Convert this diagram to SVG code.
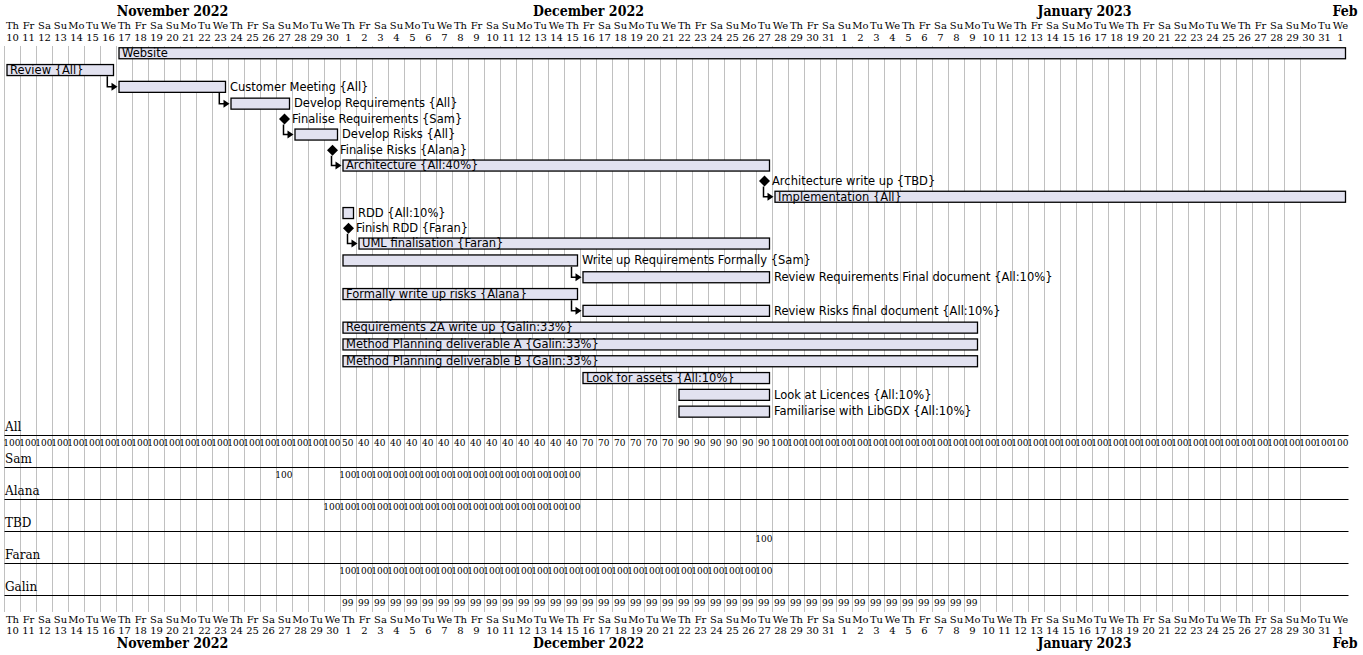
<svg xmlns="http://www.w3.org/2000/svg" width="1363" height="655" viewBox="0 0 1363 655">
<style>
.hd{font-family:"DejaVu Serif",serif;font-size:10px;text-anchor:middle;fill:#000}
.mo{font-family:"DejaVu Serif Condensed","DejaVu Serif",serif;font-stretch:condensed;font-size:14px;font-weight:bold;text-anchor:middle;fill:#000}
.rl{font-family:"DejaVu Serif",serif;font-size:12px;fill:#000}
.rn{font-family:"DejaVu Serif",serif;font-size:9px;text-anchor:middle;fill:#000}
.bar{fill:#E2E2F0;stroke:#000;stroke-width:1.3}
.tl{font-family:"DejaVu Sans",sans-serif;font-size:11.5px;fill:#000}
.ms{fill:#000}
.ar{fill:none;stroke:#000;stroke-width:1.5}
.ah{fill:#000}
.grid{stroke:#c0c0c0;stroke-width:1;fill:none}
.rline{stroke:#000;stroke-width:1;fill:none}
</style>
<rect width="1363" height="655" fill="#fff"/>
<path class="grid" d="M4.5 46v566m16-566v566m16-566v566m16-566v566m16-566v566m16-566v566m16-566v566m16-566v566m16-566v566m16-566v566m16-566v566m16-566v566m16-566v566m16-566v566m16-566v566m16-566v566m16-566v566m16-566v566m16-566v566m16-566v566m16-566v566m16-566v566m16-566v566m16-566v566m16-566v566m16-566v566m16-566v566m16-566v566m16-566v566m16-566v566m16-566v566m16-566v566m16-566v566m16-566v566m16-566v566m16-566v566m16-566v566m16-566v566m16-566v566m16-566v566m16-566v566m16-566v566m16-566v566m16-566v566m16-566v566m16-566v566m16-566v566m16-566v566m16-566v566m16-566v566m16-566v566m16-566v566m16-566v566m16-566v566m16-566v566m16-566v566m16-566v566m16-566v566m16-566v566m16-566v566m16-566v566m16-566v566m16-566v566m16-566v566m16-566v566m16-566v566m16-566v566m16-566v566m16-566v566m16-566v566m16-566v566m16-566v566m16-566v566m16-566v566m16-566v566m16-566v566m16-566v566m16-566v566m16-566v566m16-566v566m16-566v566m16-566v566"/>
<g id="months-top">
<text class="mo" x="172.5" y="15.5">November 2022</text>
<text class="mo" x="588.5" y="15.5">December 2022</text>
<text class="mo" x="1084.5" y="15.5">January 2023</text>
<text class="mo" x="1345" y="15.5">Feb</text>
</g>
<g id="months-bottom">
<text class="mo" x="172.5" y="648">November 2022</text>
<text class="mo" x="588.5" y="648">December 2022</text>
<text class="mo" x="1084.5" y="648">January 2023</text>
<text class="mo" x="1345" y="648">Feb</text>
</g>
<g id="days-top" transform="translate(12.5,0)">
<text class="hd" x="0" y="28.5">Th</text><text class="hd" x="16" y="28.5">Fr</text><text class="hd" x="32" y="28.5">Sa</text><text class="hd" x="48" y="28.5">Su</text><text class="hd" x="64" y="28.5">Mo</text><text class="hd" x="80" y="28.5">Tu</text><text class="hd" x="96" y="28.5">We</text>
<text class="hd" x="112" y="28.5">Th</text><text class="hd" x="128" y="28.5">Fr</text><text class="hd" x="144" y="28.5">Sa</text><text class="hd" x="160" y="28.5">Su</text><text class="hd" x="176" y="28.5">Mo</text><text class="hd" x="192" y="28.5">Tu</text><text class="hd" x="208" y="28.5">We</text>
<text class="hd" x="224" y="28.5">Th</text><text class="hd" x="240" y="28.5">Fr</text><text class="hd" x="256" y="28.5">Sa</text><text class="hd" x="272" y="28.5">Su</text><text class="hd" x="288" y="28.5">Mo</text><text class="hd" x="304" y="28.5">Tu</text><text class="hd" x="320" y="28.5">We</text>
<text class="hd" x="336" y="28.5">Th</text><text class="hd" x="352" y="28.5">Fr</text><text class="hd" x="368" y="28.5">Sa</text><text class="hd" x="384" y="28.5">Su</text><text class="hd" x="400" y="28.5">Mo</text><text class="hd" x="416" y="28.5">Tu</text><text class="hd" x="432" y="28.5">We</text>
<text class="hd" x="448" y="28.5">Th</text><text class="hd" x="464" y="28.5">Fr</text><text class="hd" x="480" y="28.5">Sa</text><text class="hd" x="496" y="28.5">Su</text><text class="hd" x="512" y="28.5">Mo</text><text class="hd" x="528" y="28.5">Tu</text><text class="hd" x="544" y="28.5">We</text>
<text class="hd" x="560" y="28.5">Th</text><text class="hd" x="576" y="28.5">Fr</text><text class="hd" x="592" y="28.5">Sa</text><text class="hd" x="608" y="28.5">Su</text><text class="hd" x="624" y="28.5">Mo</text><text class="hd" x="640" y="28.5">Tu</text><text class="hd" x="656" y="28.5">We</text>
<text class="hd" x="672" y="28.5">Th</text><text class="hd" x="688" y="28.5">Fr</text><text class="hd" x="704" y="28.5">Sa</text><text class="hd" x="720" y="28.5">Su</text><text class="hd" x="736" y="28.5">Mo</text><text class="hd" x="752" y="28.5">Tu</text><text class="hd" x="768" y="28.5">We</text>
<text class="hd" x="784" y="28.5">Th</text><text class="hd" x="800" y="28.5">Fr</text><text class="hd" x="816" y="28.5">Sa</text><text class="hd" x="832" y="28.5">Su</text><text class="hd" x="848" y="28.5">Mo</text><text class="hd" x="864" y="28.5">Tu</text><text class="hd" x="880" y="28.5">We</text>
<text class="hd" x="896" y="28.5">Th</text><text class="hd" x="912" y="28.5">Fr</text><text class="hd" x="928" y="28.5">Sa</text><text class="hd" x="944" y="28.5">Su</text><text class="hd" x="960" y="28.5">Mo</text><text class="hd" x="976" y="28.5">Tu</text><text class="hd" x="992" y="28.5">We</text>
<text class="hd" x="1008" y="28.5">Th</text><text class="hd" x="1024" y="28.5">Fr</text><text class="hd" x="1040" y="28.5">Sa</text><text class="hd" x="1056" y="28.5">Su</text><text class="hd" x="1072" y="28.5">Mo</text><text class="hd" x="1088" y="28.5">Tu</text><text class="hd" x="1104" y="28.5">We</text>
<text class="hd" x="1120" y="28.5">Th</text><text class="hd" x="1136" y="28.5">Fr</text><text class="hd" x="1152" y="28.5">Sa</text><text class="hd" x="1168" y="28.5">Su</text><text class="hd" x="1184" y="28.5">Mo</text><text class="hd" x="1200" y="28.5">Tu</text><text class="hd" x="1216" y="28.5">We</text>
<text class="hd" x="1232" y="28.5">Th</text><text class="hd" x="1248" y="28.5">Fr</text><text class="hd" x="1264" y="28.5">Sa</text><text class="hd" x="1280" y="28.5">Su</text><text class="hd" x="1296" y="28.5">Mo</text><text class="hd" x="1312" y="28.5">Tu</text><text class="hd" x="1328" y="28.5">We</text>
<text class="hd" x="0" y="41">10</text><text class="hd" x="16" y="41">11</text><text class="hd" x="32" y="41">12</text><text class="hd" x="48" y="41">13</text><text class="hd" x="64" y="41">14</text><text class="hd" x="80" y="41">15</text><text class="hd" x="96" y="41">16</text>
<text class="hd" x="112" y="41">17</text><text class="hd" x="128" y="41">18</text><text class="hd" x="144" y="41">19</text><text class="hd" x="160" y="41">20</text><text class="hd" x="176" y="41">21</text><text class="hd" x="192" y="41">22</text><text class="hd" x="208" y="41">23</text>
<text class="hd" x="224" y="41">24</text><text class="hd" x="240" y="41">25</text><text class="hd" x="256" y="41">26</text><text class="hd" x="272" y="41">27</text><text class="hd" x="288" y="41">28</text><text class="hd" x="304" y="41">29</text><text class="hd" x="320" y="41">30</text>
<text class="hd" x="336" y="41">1</text><text class="hd" x="352" y="41">2</text><text class="hd" x="368" y="41">3</text><text class="hd" x="384" y="41">4</text><text class="hd" x="400" y="41">5</text><text class="hd" x="416" y="41">6</text><text class="hd" x="432" y="41">7</text>
<text class="hd" x="448" y="41">8</text><text class="hd" x="464" y="41">9</text><text class="hd" x="480" y="41">10</text><text class="hd" x="496" y="41">11</text><text class="hd" x="512" y="41">12</text><text class="hd" x="528" y="41">13</text><text class="hd" x="544" y="41">14</text>
<text class="hd" x="560" y="41">15</text><text class="hd" x="576" y="41">16</text><text class="hd" x="592" y="41">17</text><text class="hd" x="608" y="41">18</text><text class="hd" x="624" y="41">19</text><text class="hd" x="640" y="41">20</text><text class="hd" x="656" y="41">21</text>
<text class="hd" x="672" y="41">22</text><text class="hd" x="688" y="41">23</text><text class="hd" x="704" y="41">24</text><text class="hd" x="720" y="41">25</text><text class="hd" x="736" y="41">26</text><text class="hd" x="752" y="41">27</text><text class="hd" x="768" y="41">28</text>
<text class="hd" x="784" y="41">29</text><text class="hd" x="800" y="41">30</text><text class="hd" x="816" y="41">31</text><text class="hd" x="832" y="41">1</text><text class="hd" x="848" y="41">2</text><text class="hd" x="864" y="41">3</text><text class="hd" x="880" y="41">4</text>
<text class="hd" x="896" y="41">5</text><text class="hd" x="912" y="41">6</text><text class="hd" x="928" y="41">7</text><text class="hd" x="944" y="41">8</text><text class="hd" x="960" y="41">9</text><text class="hd" x="976" y="41">10</text><text class="hd" x="992" y="41">11</text>
<text class="hd" x="1008" y="41">12</text><text class="hd" x="1024" y="41">13</text><text class="hd" x="1040" y="41">14</text><text class="hd" x="1056" y="41">15</text><text class="hd" x="1072" y="41">16</text><text class="hd" x="1088" y="41">17</text><text class="hd" x="1104" y="41">18</text>
<text class="hd" x="1120" y="41">19</text><text class="hd" x="1136" y="41">20</text><text class="hd" x="1152" y="41">21</text><text class="hd" x="1168" y="41">22</text><text class="hd" x="1184" y="41">23</text><text class="hd" x="1200" y="41">24</text><text class="hd" x="1216" y="41">25</text>
<text class="hd" x="1232" y="41">26</text><text class="hd" x="1248" y="41">27</text><text class="hd" x="1264" y="41">28</text><text class="hd" x="1280" y="41">29</text><text class="hd" x="1296" y="41">30</text><text class="hd" x="1312" y="41">31</text><text class="hd" x="1328" y="41">1</text>
</g>
<g id="days-bottom" transform="translate(12.5,0)">
<text class="hd" x="0" y="623">Th</text><text class="hd" x="16" y="623">Fr</text><text class="hd" x="32" y="623">Sa</text><text class="hd" x="48" y="623">Su</text><text class="hd" x="64" y="623">Mo</text><text class="hd" x="80" y="623">Tu</text><text class="hd" x="96" y="623">We</text>
<text class="hd" x="112" y="623">Th</text><text class="hd" x="128" y="623">Fr</text><text class="hd" x="144" y="623">Sa</text><text class="hd" x="160" y="623">Su</text><text class="hd" x="176" y="623">Mo</text><text class="hd" x="192" y="623">Tu</text><text class="hd" x="208" y="623">We</text>
<text class="hd" x="224" y="623">Th</text><text class="hd" x="240" y="623">Fr</text><text class="hd" x="256" y="623">Sa</text><text class="hd" x="272" y="623">Su</text><text class="hd" x="288" y="623">Mo</text><text class="hd" x="304" y="623">Tu</text><text class="hd" x="320" y="623">We</text>
<text class="hd" x="336" y="623">Th</text><text class="hd" x="352" y="623">Fr</text><text class="hd" x="368" y="623">Sa</text><text class="hd" x="384" y="623">Su</text><text class="hd" x="400" y="623">Mo</text><text class="hd" x="416" y="623">Tu</text><text class="hd" x="432" y="623">We</text>
<text class="hd" x="448" y="623">Th</text><text class="hd" x="464" y="623">Fr</text><text class="hd" x="480" y="623">Sa</text><text class="hd" x="496" y="623">Su</text><text class="hd" x="512" y="623">Mo</text><text class="hd" x="528" y="623">Tu</text><text class="hd" x="544" y="623">We</text>
<text class="hd" x="560" y="623">Th</text><text class="hd" x="576" y="623">Fr</text><text class="hd" x="592" y="623">Sa</text><text class="hd" x="608" y="623">Su</text><text class="hd" x="624" y="623">Mo</text><text class="hd" x="640" y="623">Tu</text><text class="hd" x="656" y="623">We</text>
<text class="hd" x="672" y="623">Th</text><text class="hd" x="688" y="623">Fr</text><text class="hd" x="704" y="623">Sa</text><text class="hd" x="720" y="623">Su</text><text class="hd" x="736" y="623">Mo</text><text class="hd" x="752" y="623">Tu</text><text class="hd" x="768" y="623">We</text>
<text class="hd" x="784" y="623">Th</text><text class="hd" x="800" y="623">Fr</text><text class="hd" x="816" y="623">Sa</text><text class="hd" x="832" y="623">Su</text><text class="hd" x="848" y="623">Mo</text><text class="hd" x="864" y="623">Tu</text><text class="hd" x="880" y="623">We</text>
<text class="hd" x="896" y="623">Th</text><text class="hd" x="912" y="623">Fr</text><text class="hd" x="928" y="623">Sa</text><text class="hd" x="944" y="623">Su</text><text class="hd" x="960" y="623">Mo</text><text class="hd" x="976" y="623">Tu</text><text class="hd" x="992" y="623">We</text>
<text class="hd" x="1008" y="623">Th</text><text class="hd" x="1024" y="623">Fr</text><text class="hd" x="1040" y="623">Sa</text><text class="hd" x="1056" y="623">Su</text><text class="hd" x="1072" y="623">Mo</text><text class="hd" x="1088" y="623">Tu</text><text class="hd" x="1104" y="623">We</text>
<text class="hd" x="1120" y="623">Th</text><text class="hd" x="1136" y="623">Fr</text><text class="hd" x="1152" y="623">Sa</text><text class="hd" x="1168" y="623">Su</text><text class="hd" x="1184" y="623">Mo</text><text class="hd" x="1200" y="623">Tu</text><text class="hd" x="1216" y="623">We</text>
<text class="hd" x="1232" y="623">Th</text><text class="hd" x="1248" y="623">Fr</text><text class="hd" x="1264" y="623">Sa</text><text class="hd" x="1280" y="623">Su</text><text class="hd" x="1296" y="623">Mo</text><text class="hd" x="1312" y="623">Tu</text><text class="hd" x="1328" y="623">We</text>
<text class="hd" x="0" y="634">10</text><text class="hd" x="16" y="634">11</text><text class="hd" x="32" y="634">12</text><text class="hd" x="48" y="634">13</text><text class="hd" x="64" y="634">14</text><text class="hd" x="80" y="634">15</text><text class="hd" x="96" y="634">16</text>
<text class="hd" x="112" y="634">17</text><text class="hd" x="128" y="634">18</text><text class="hd" x="144" y="634">19</text><text class="hd" x="160" y="634">20</text><text class="hd" x="176" y="634">21</text><text class="hd" x="192" y="634">22</text><text class="hd" x="208" y="634">23</text>
<text class="hd" x="224" y="634">24</text><text class="hd" x="240" y="634">25</text><text class="hd" x="256" y="634">26</text><text class="hd" x="272" y="634">27</text><text class="hd" x="288" y="634">28</text><text class="hd" x="304" y="634">29</text><text class="hd" x="320" y="634">30</text>
<text class="hd" x="336" y="634">1</text><text class="hd" x="352" y="634">2</text><text class="hd" x="368" y="634">3</text><text class="hd" x="384" y="634">4</text><text class="hd" x="400" y="634">5</text><text class="hd" x="416" y="634">6</text><text class="hd" x="432" y="634">7</text>
<text class="hd" x="448" y="634">8</text><text class="hd" x="464" y="634">9</text><text class="hd" x="480" y="634">10</text><text class="hd" x="496" y="634">11</text><text class="hd" x="512" y="634">12</text><text class="hd" x="528" y="634">13</text><text class="hd" x="544" y="634">14</text>
<text class="hd" x="560" y="634">15</text><text class="hd" x="576" y="634">16</text><text class="hd" x="592" y="634">17</text><text class="hd" x="608" y="634">18</text><text class="hd" x="624" y="634">19</text><text class="hd" x="640" y="634">20</text><text class="hd" x="656" y="634">21</text>
<text class="hd" x="672" y="634">22</text><text class="hd" x="688" y="634">23</text><text class="hd" x="704" y="634">24</text><text class="hd" x="720" y="634">25</text><text class="hd" x="736" y="634">26</text><text class="hd" x="752" y="634">27</text><text class="hd" x="768" y="634">28</text>
<text class="hd" x="784" y="634">29</text><text class="hd" x="800" y="634">30</text><text class="hd" x="816" y="634">31</text><text class="hd" x="832" y="634">1</text><text class="hd" x="848" y="634">2</text><text class="hd" x="864" y="634">3</text><text class="hd" x="880" y="634">4</text>
<text class="hd" x="896" y="634">5</text><text class="hd" x="912" y="634">6</text><text class="hd" x="928" y="634">7</text><text class="hd" x="944" y="634">8</text><text class="hd" x="960" y="634">9</text><text class="hd" x="976" y="634">10</text><text class="hd" x="992" y="634">11</text>
<text class="hd" x="1008" y="634">12</text><text class="hd" x="1024" y="634">13</text><text class="hd" x="1040" y="634">14</text><text class="hd" x="1056" y="634">15</text><text class="hd" x="1072" y="634">16</text><text class="hd" x="1088" y="634">17</text><text class="hd" x="1104" y="634">18</text>
<text class="hd" x="1120" y="634">19</text><text class="hd" x="1136" y="634">20</text><text class="hd" x="1152" y="634">21</text><text class="hd" x="1168" y="634">22</text><text class="hd" x="1184" y="634">23</text><text class="hd" x="1200" y="634">24</text><text class="hd" x="1216" y="634">25</text>
<text class="hd" x="1232" y="634">26</text><text class="hd" x="1248" y="634">27</text><text class="hd" x="1264" y="634">28</text><text class="hd" x="1280" y="634">29</text><text class="hd" x="1296" y="634">30</text><text class="hd" x="1312" y="634">31</text><text class="hd" x="1328" y="634">1</text>
</g>
<g id="connectors">
<path class="ar" d="M107.3 76.3V86.85H112"/><polygon class="ah" points="111.5,82.85 117.5,86.85 111.5,90.85"/>
<path class="ar" d="M219.3 93.1V103.65H224"/><polygon class="ah" points="223.5,99.65 229.5,103.65 223.5,107.65"/>
<path class="ar" d="M283.5 124.5V134.55H288"/><polygon class="ah" points="287.5,130.55 293.5,134.55 287.5,138.55"/>
<path class="ar" d="M331.5 155.8V165.55H336"/><polygon class="ah" points="335.5,161.55 341.5,165.55 335.5,169.55"/>
<path class="ar" d="M763.5 186.5V196.75H768"/><polygon class="ah" points="767.5,192.75 773.5,196.75 767.5,200.75"/>
<path class="ar" d="M347.5 233.8V243.55H352"/><polygon class="ah" points="351.5,239.55 357.5,243.55 351.5,247.55"/>
<path class="ar" d="M571.5 266.7V277.25H576"/><polygon class="ah" points="575.5,273.25 581.5,277.25 575.5,281.25"/>
<path class="ar" d="M571.5 300.3V310.85H576"/><polygon class="ah" points="575.5,306.85 581.5,310.85 575.5,314.85"/>
</g>
<g id="task-website"><rect class="bar" x="119" y="47.75" width="1226.5" height="11"/><text class="tl" x="122" y="57">Website</text></g>
<g id="task-review"><rect class="bar" x="7" y="64.55" width="106.5" height="11"/><text class="tl" x="10" y="73.8">Review {All}</text></g>
<g id="task-customer-meeting"><rect class="bar" x="119" y="81.35" width="106.5" height="11"/><text class="tl" x="230" y="90.6">Customer Meeting {All}</text></g>
<g id="task-develop-requirements"><rect class="bar" x="231" y="98.15" width="58.5" height="11"/><text class="tl" x="294" y="107.4">Develop Requirements {All}</text></g>
<g id="ms-finalise-requirements"><path class="ms" d="M284.5 113.5L290 119L284.5 124.5L279 119Z"/><text class="tl" x="292" y="123">Finalise Requirements {Sam}</text></g>
<g id="task-develop-risks"><rect class="bar" x="295" y="129.05" width="42.5" height="11"/><text class="tl" x="342" y="138.3">Develop Risks {All}</text></g>
<g id="ms-finalise-risks"><path class="ms" d="M332.5 144.8L338 150.3L332.5 155.8L327 150.3Z"/><text class="tl" x="340" y="154.3">Finalise Risks {Alana}</text></g>
<g id="task-architecture"><rect class="bar" x="343" y="160.05" width="426.5" height="11"/><text class="tl" x="346" y="169.3">Architecture {All:40%}</text></g>
<g id="ms-architecture-write-up"><path class="ms" d="M764.5 175.5L770 181L764.5 186.5L759 181Z"/><text class="tl" x="772" y="185">Architecture write up {TBD}</text></g>
<g id="task-implementation"><rect class="bar" x="775" y="191.25" width="570.5" height="11"/><text class="tl" x="778" y="200.5">Implementation {All}</text></g>
<g id="task-rdd"><rect class="bar" x="343" y="207.55" width="10.5" height="11"/><text class="tl" x="358" y="216.8">RDD {All:10%}</text></g>
<g id="ms-finish-rdd"><path class="ms" d="M348.5 222.8L354 228.3L348.5 233.8L343 228.3Z"/><text class="tl" x="356" y="232.3">Finish RDD {Faran}</text></g>
<g id="task-uml"><rect class="bar" x="359" y="238.05" width="410.5" height="11"/><text class="tl" x="362" y="247.3">UML finalisation {Faran}</text></g>
<g id="task-write-up-req"><rect class="bar" x="343" y="254.95" width="234.5" height="11"/><text class="tl" x="582" y="264.2">Write up Requirements Formally {Sam}</text></g>
<g id="task-review-req"><rect class="bar" x="583" y="271.75" width="186.5" height="11"/><text class="tl" x="774" y="281">Review Requirements Final document {All:10%}</text></g>
<g id="task-write-up-risks"><rect class="bar" x="343" y="288.55" width="234.5" height="11"/><text class="tl" x="346" y="297.8">Formally write up risks {Alana}</text></g>
<g id="task-review-risks"><rect class="bar" x="583" y="305.35" width="186.5" height="11"/><text class="tl" x="774" y="314.6">Review Risks final document {All:10%}</text></g>
<g id="task-req-2a"><rect class="bar" x="343" y="322.15" width="634.5" height="11"/><text class="tl" x="346" y="331.4">Requirements 2A write up {Galin:33%}</text></g>
<g id="task-method-a"><rect class="bar" x="343" y="338.95" width="634.5" height="11"/><text class="tl" x="346" y="348.2">Method Planning deliverable A {Galin:33%}</text></g>
<g id="task-method-b"><rect class="bar" x="343" y="355.75" width="634.5" height="11"/><text class="tl" x="346" y="365">Method Planning deliverable B {Galin:33%}</text></g>
<g id="task-assets"><rect class="bar" x="583" y="372.55" width="186.5" height="11"/><text class="tl" x="586" y="381.8">Look for assets {All:10%}</text></g>
<g id="task-licences"><rect class="bar" x="679" y="389.35" width="90.5" height="11"/><text class="tl" x="774" y="398.6">Look at Licences {All:10%}</text></g>
<g id="task-libgdx"><rect class="bar" x="679" y="406.15" width="90.5" height="11"/><text class="tl" x="774" y="415.4">Familiarise with LibGDX {All:10%}</text></g>
<g id="resource-lines"><path class="rline" d="M4.5 435.5H1348.5M4.5 467.5H1348.5M4.5 499.5H1348.5M4.5 531.5H1348.5M4.5 563.5H1348.5M4.5 595.5H1348.5"/></g>
<g id="res-all">
<text class="rl" x="5" y="431">All</text>
<g transform="translate(11.8,446)">
<text class="rn" x="0">100</text><text class="rn" x="16">100</text><text class="rn" x="32">100</text><text class="rn" x="48">100</text><text class="rn" x="64">100</text><text class="rn" x="80">100</text><text class="rn" x="96">100</text>
<text class="rn" x="112">100</text><text class="rn" x="128">100</text><text class="rn" x="144">100</text><text class="rn" x="160">100</text><text class="rn" x="176">100</text><text class="rn" x="192">100</text><text class="rn" x="208">100</text>
<text class="rn" x="224">100</text><text class="rn" x="240">100</text><text class="rn" x="256">100</text><text class="rn" x="272">100</text><text class="rn" x="288">100</text><text class="rn" x="304">100</text><text class="rn" x="320">100</text>
<text class="rn" x="336">50</text><text class="rn" x="352">40</text><text class="rn" x="368">40</text><text class="rn" x="384">40</text><text class="rn" x="400">40</text><text class="rn" x="416">40</text><text class="rn" x="432">40</text>
<text class="rn" x="448">40</text><text class="rn" x="464">40</text><text class="rn" x="480">40</text><text class="rn" x="496">40</text><text class="rn" x="512">40</text><text class="rn" x="528">40</text><text class="rn" x="544">40</text>
<text class="rn" x="560">40</text><text class="rn" x="576">70</text><text class="rn" x="592">70</text><text class="rn" x="608">70</text><text class="rn" x="624">70</text><text class="rn" x="640">70</text><text class="rn" x="656">70</text>
<text class="rn" x="672">90</text><text class="rn" x="688">90</text><text class="rn" x="704">90</text><text class="rn" x="720">90</text><text class="rn" x="736">90</text><text class="rn" x="752">90</text><text class="rn" x="768">100</text>
<text class="rn" x="784">100</text><text class="rn" x="800">100</text><text class="rn" x="816">100</text><text class="rn" x="832">100</text><text class="rn" x="848">100</text><text class="rn" x="864">100</text><text class="rn" x="880">100</text>
<text class="rn" x="896">100</text><text class="rn" x="912">100</text><text class="rn" x="928">100</text><text class="rn" x="944">100</text><text class="rn" x="960">100</text><text class="rn" x="976">100</text><text class="rn" x="992">100</text>
<text class="rn" x="1008">100</text><text class="rn" x="1024">100</text><text class="rn" x="1040">100</text><text class="rn" x="1056">100</text><text class="rn" x="1072">100</text><text class="rn" x="1088">100</text><text class="rn" x="1104">100</text>
<text class="rn" x="1120">100</text><text class="rn" x="1136">100</text><text class="rn" x="1152">100</text><text class="rn" x="1168">100</text><text class="rn" x="1184">100</text><text class="rn" x="1200">100</text><text class="rn" x="1216">100</text>
<text class="rn" x="1232">100</text><text class="rn" x="1248">100</text><text class="rn" x="1264">100</text><text class="rn" x="1280">100</text><text class="rn" x="1296">100</text><text class="rn" x="1312">100</text><text class="rn" x="1328">100</text>
</g>
</g>
<g id="res-sam">
<text class="rl" x="5" y="463">Sam</text>
<g transform="translate(11.8,478)">
<text class="rn" x="272">100</text>
<text class="rn" x="336">100</text><text class="rn" x="352">100</text><text class="rn" x="368">100</text><text class="rn" x="384">100</text><text class="rn" x="400">100</text><text class="rn" x="416">100</text><text class="rn" x="432">100</text><text class="rn" x="448">100</text><text class="rn" x="464">100</text><text class="rn" x="480">100</text><text class="rn" x="496">100</text><text class="rn" x="512">100</text><text class="rn" x="528">100</text><text class="rn" x="544">100</text><text class="rn" x="560">100</text>
</g>
</g>
<g id="res-alana">
<text class="rl" x="5" y="495">Alana</text>
<g transform="translate(11.8,510)">
<text class="rn" x="320">100</text>
<text class="rn" x="336">100</text><text class="rn" x="352">100</text><text class="rn" x="368">100</text><text class="rn" x="384">100</text><text class="rn" x="400">100</text><text class="rn" x="416">100</text><text class="rn" x="432">100</text><text class="rn" x="448">100</text><text class="rn" x="464">100</text><text class="rn" x="480">100</text><text class="rn" x="496">100</text><text class="rn" x="512">100</text><text class="rn" x="528">100</text><text class="rn" x="544">100</text><text class="rn" x="560">100</text>
</g>
</g>
<g id="res-tbd">
<text class="rl" x="5" y="527">TBD</text>
<g transform="translate(11.8,542)"><text class="rn" x="752">100</text></g>
</g>
<g id="res-faran">
<text class="rl" x="5" y="559">Faran</text>
<g transform="translate(11.8,574)">
<text class="rn" x="336">100</text><text class="rn" x="352">100</text><text class="rn" x="368">100</text><text class="rn" x="384">100</text><text class="rn" x="400">100</text><text class="rn" x="416">100</text><text class="rn" x="432">100</text><text class="rn" x="448">100</text><text class="rn" x="464">100</text><text class="rn" x="480">100</text><text class="rn" x="496">100</text><text class="rn" x="512">100</text><text class="rn" x="528">100</text><text class="rn" x="544">100</text><text class="rn" x="560">100</text>
<text class="rn" x="576">100</text><text class="rn" x="592">100</text><text class="rn" x="608">100</text><text class="rn" x="624">100</text><text class="rn" x="640">100</text><text class="rn" x="656">100</text><text class="rn" x="672">100</text><text class="rn" x="688">100</text><text class="rn" x="704">100</text><text class="rn" x="720">100</text><text class="rn" x="736">100</text><text class="rn" x="752">100</text>
</g>
</g>
<g id="res-galin">
<text class="rl" x="5" y="591">Galin</text>
<g transform="translate(11.8,606)">
<text class="rn" x="336">99</text><text class="rn" x="352">99</text><text class="rn" x="368">99</text><text class="rn" x="384">99</text><text class="rn" x="400">99</text><text class="rn" x="416">99</text><text class="rn" x="432">99</text><text class="rn" x="448">99</text><text class="rn" x="464">99</text><text class="rn" x="480">99</text>
<text class="rn" x="496">99</text><text class="rn" x="512">99</text><text class="rn" x="528">99</text><text class="rn" x="544">99</text><text class="rn" x="560">99</text><text class="rn" x="576">99</text><text class="rn" x="592">99</text><text class="rn" x="608">99</text><text class="rn" x="624">99</text><text class="rn" x="640">99</text>
<text class="rn" x="656">99</text><text class="rn" x="672">99</text><text class="rn" x="688">99</text><text class="rn" x="704">99</text><text class="rn" x="720">99</text><text class="rn" x="736">99</text><text class="rn" x="752">99</text><text class="rn" x="768">99</text><text class="rn" x="784">99</text><text class="rn" x="800">99</text>
<text class="rn" x="816">99</text><text class="rn" x="832">99</text><text class="rn" x="848">99</text><text class="rn" x="864">99</text><text class="rn" x="880">99</text><text class="rn" x="896">99</text><text class="rn" x="912">99</text><text class="rn" x="928">99</text><text class="rn" x="944">99</text><text class="rn" x="960">99</text>
</g>
</g>
</svg>
